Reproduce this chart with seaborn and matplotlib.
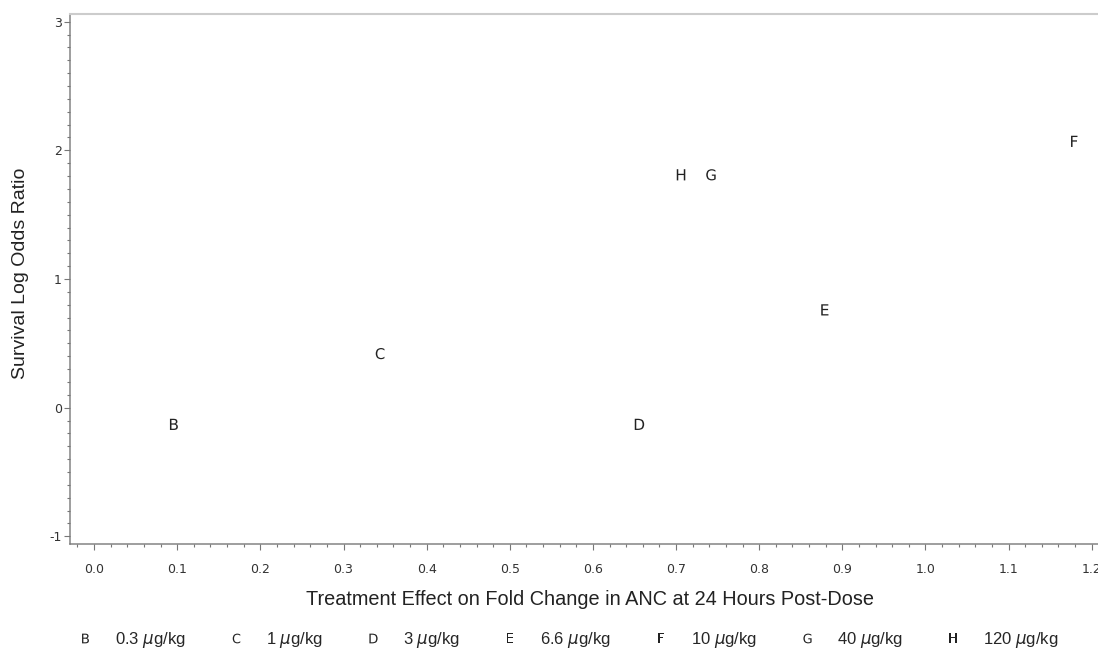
import matplotlib
matplotlib.use("Agg")
import matplotlib.pyplot as plt
from matplotlib.lines import Line2D
from matplotlib.ticker import MultipleLocator, FormatStrFormatter
import seaborn as sns
import pandas as pd

letters = ["B", "C", "D", "E", "F", "G", "H"]
doses = ["0.3", "1", "3", "6.6", "10", "40", "120"]
x_vals = [0.096, 0.344, 0.656, 0.879, 1.179, 0.742, 0.706]
y_vals = [-0.13, 0.42, -0.13, 0.76, 2.07, 1.81, 1.81]

df = pd.DataFrame({"letter": letters, "dose": doses, "x": x_vals, "y": y_vals})

sns.set_theme(style="white")
plt.rcParams["font.family"] = ["DejaVu Sans"]
plt.rcParams["mathtext.fontset"] = "dejavusans"
plt.rcParams["path.snap"] = False

fig = plt.figure(figsize=(10.98, 6.51), dpi=100)
ax = fig.add_axes([70 / 1098, 1 - 544 / 651, 1040 / 1098, (544 - 14) / 651])

markers = {l: r"$\mathsf{%s}$" % l for l in letters}
sns.scatterplot(data=df, x="x", y="y", style="letter", markers=markers,
                color="#222222", s=65, linewidth=0, ax=ax, legend=False)

ax.set_xlim(-0.029, 1.222)
ax.set_ylim(-1.06, 3.06)
ax.xaxis.set_major_locator(MultipleLocator(0.1))
ax.xaxis.set_minor_locator(MultipleLocator(0.02))
ax.yaxis.set_major_locator(MultipleLocator(1))
ax.yaxis.set_minor_locator(MultipleLocator(0.1))
ax.xaxis.set_major_formatter(FormatStrFormatter("%.1f"))
ax.yaxis.set_major_formatter(FormatStrFormatter("%d"))

spine_c = "#777777"
for side in ["left", "bottom"]:
    ax.spines[side].set_color(spine_c)
    ax.spines[side].set_linewidth(1.0)
ax.spines["top"].set_color("#cccccc")
ax.spines["top"].set_linewidth(1.5)
ax.spines["right"].set_visible(False)

ax.tick_params(axis="both", which="major", direction="out", length=4.5, width=0.8,
               color=spine_c, labelsize=9, labelcolor="#333333",
               left=True, bottom=True)
ax.tick_params(axis="both", which="minor", direction="out", length=2.2, width=0.8,
               color=spine_c, left=True, bottom=True)
ax.tick_params(axis="x", which="major", pad=9)
ax.tick_params(axis="y", which="major", pad=1.5)

ax.set_xlabel("Treatment Effect on Fold Change in ANC at 24 Hours Post-Dose",
              fontsize=14.3, family="Liberation Sans", color="#222222", labelpad=10)
ax.set_ylabel("Survival Log Odds Ratio", fontsize=14, family="Liberation Sans",
              color="#222222")
ax.yaxis.set_label_coords(-0.039, 0.51)

handles = [Line2D([], [], linestyle="none", marker=markers[l], color="#222222",
                  markersize=7, markeredgewidth=0) for l in letters]
labels = [r"%s $\mu$g/kg" % d for d in doses]
fig.legend(handles, labels, loc="center", bbox_to_anchor=(0.517, 1 - 640 / 651),
           ncol=7, frameon=False, handlelength=1.0,
           handletextpad=1.3, columnspacing=2.5,
           prop={"family": "Liberation Sans", "size": 12})

fig.savefig("out.png", dpi=100, facecolor="white")
